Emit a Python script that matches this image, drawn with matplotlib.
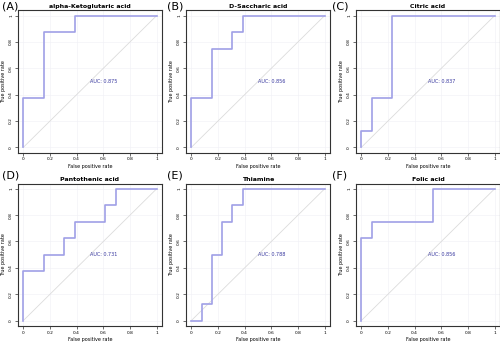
import matplotlib.pyplot as plt

titles = ["alpha-Ketoglutaric acid", "D-Saccharic acid", "Citric acid",
          "Pantothenic acid", "Thiamine", "Folic acid"]
letters = ["(A)", "(B)", "(C)", "(D)", "(E)", "(F)"]
aucs = ["0.875", "0.856", "0.837", "0.731", "0.788", "0.856"]

# ROC step points (false positive rate, true positive rate)
fpr_a = [0, 0, 2/13, 2/13, 5/13, 5/13, 1]
tpr_a = [0, 0.375, 0.375, 0.875, 0.875, 1, 1]
fpr_b = [0, 0, 2/13, 2/13, 4/13, 4/13, 5/13, 5/13, 1]
tpr_b = [0, 0.375, 0.375, 0.75, 0.75, 0.875, 0.875, 1, 1]
fpr_c = [0, 0, 1/13, 1/13, 3/13, 3/13, 1]
tpr_c = [0, 0.125, 0.125, 0.375, 0.375, 1, 1]
fpr_d = [0, 0, 2/13, 2/13, 4/13, 4/13, 5/13, 5/13, 8/13, 8/13, 9/13, 9/13, 1]
tpr_d = [0, 0.375, 0.375, 0.5, 0.5, 0.625, 0.625, 0.75, 0.75, 0.875, 0.875, 1, 1]
fpr_e = [0, 1/13, 1/13, 2/13, 2/13, 3/13, 3/13, 4/13, 4/13, 5/13, 5/13, 1]
tpr_e = [0, 0, 0.125, 0.125, 0.5, 0.5, 0.75, 0.75, 0.875, 0.875, 1, 1]
fpr_f = [0, 0, 1/13, 1/13, 7/13, 7/13, 1]
tpr_f = [0, 0.625, 0.625, 0.75, 0.75, 1, 1]

fprs = [fpr_a, fpr_b, fpr_c, fpr_d, fpr_e, fpr_f]
tprs = [tpr_a, tpr_b, tpr_c, tpr_d, tpr_e, tpr_f]

ticks = [0, 0.2, 0.4, 0.6, 0.8, 1]
tick_labels = ["0", "0.2", "0.4", "0.6", "0.8", "1"]

fig = plt.figure(figsize=(5, 3.43), dpi=100)
lefts = [0.036, 0.372, 0.712]
bottoms = [0.555, 0.05]
letter_x = [0.004, 0.334, 0.664]
letter_y = [0.997, 0.502]
w, h = 0.288, 0.415

for i in range(6):
    r, c = divmod(i, 3)
    ax = fig.add_axes([lefts[c], bottoms[r], w, h])
    for v in ticks:
        ax.axhline(v, color="#f0f0f6", lw=0.4, zorder=0)
        ax.axvline(v, color="#f0f0f6", lw=0.4, zorder=0)
    ax.plot([0, 1], [0, 1], color="#dcdcdc", lw=0.6)
    ax.plot(fprs[i], tprs[i], color="#a0a0e6", lw=1.2)
    ax.text(0.5, 0.5, "AUC: " + aucs[i], color="#3a3aa0", fontsize=3.5,
            ha="left", va="center")
    ax.set_xlim(-0.04, 1.04)
    ax.set_ylim(-0.04, 1.04)
    ax.set_xticks(ticks)
    ax.set_xticklabels(tick_labels, fontsize=3.2)
    ax.set_yticks(ticks)
    ax.set_yticklabels(tick_labels, fontsize=3.2, rotation=90, va="center")
    ax.tick_params(length=2, width=0.5, pad=1.5, color="#333333")
    for s in ax.spines.values():
        s.set_linewidth(0.8)
        s.set_color("#333333")
    ax.set_xlabel("False positive rate", fontsize=3.5, labelpad=2)
    ax.set_ylabel("True positive rate", fontsize=3.5, labelpad=2)
    ax.set_title(titles[i], fontsize=4.5, fontweight="bold", pad=2)
    fig.text(letter_x[c], letter_y[r], letters[i], fontsize=8,
             ha="left", va="top")

fig.savefig("out.png", dpi=100)
